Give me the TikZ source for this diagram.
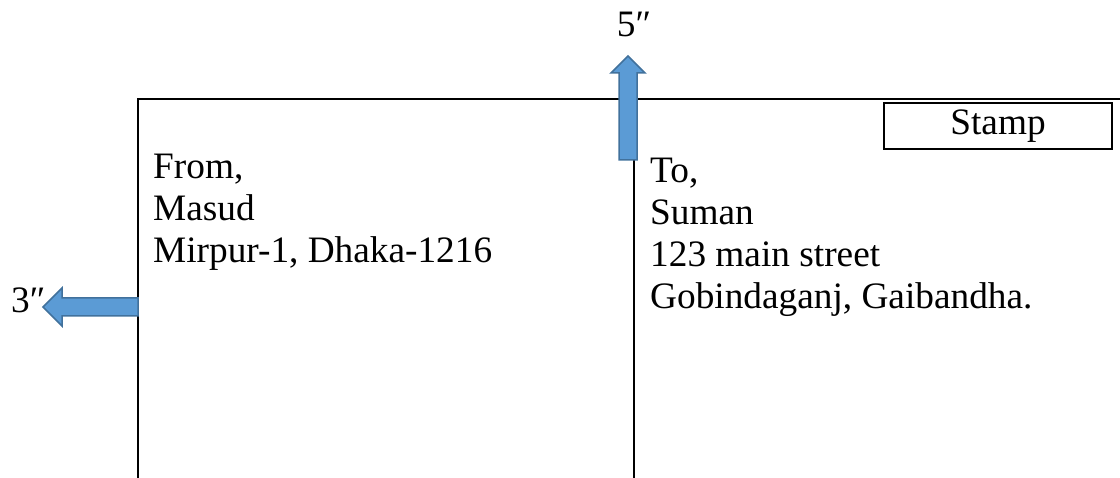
\documentclass[tikz,border=0pt]{standalone}
\usepackage{fontspec}
\setmainfont{Liberation Serif}
\definecolor{arrowfill}{HTML}{5B9BD5}
\definecolor{arrowdraw}{HTML}{41719C}
\begin{document}
\begin{tikzpicture}[x=1pt,y=-1pt,
  frame/.style={line width=2pt,black},
  blockarrow/.style={fill=arrowfill,draw=arrowdraw,line width=1.5pt,line join=miter},
  txt/.style={inner sep=0pt,anchor=base west,align=left,font=\fontsize{37.3}{42}\selectfont},
  dim/.style={inner sep=0pt,font=\fontsize{37.3}{42}\selectfont}]
\useasboundingbox (0,0) rectangle (1120,478);
% frame
\coordinate (tl) at (138,99);
\coordinate (tr) at (1120,99);
\coordinate (bl) at (138,478);
\coordinate (mt) at (634,99);
\coordinate (mb) at (634,478);
\draw[frame] (tr) -- (tl) -- (bl);
\draw[frame] (mt) -- (mb);
% stamp
\node[draw,line width=2pt,minimum width=228pt,minimum height=46pt,inner sep=0pt,anchor=north west,font=\fontsize{37.3}{42}\selectfont] (stamp) at (883,102) {Stamp};
% up arrow
\draw[blockarrow] (619,160) -- (619,73) -- (611,73) -- (628,56) -- (645,73) -- (637,73) -- (637,160) -- cycle;
\node[dim,anchor=base] (five) at (634,37) {5″};
% left arrow
\draw[blockarrow] (138,298) -- (62,298) -- (62,288) -- (43,307) -- (62,326) -- (62,316) -- (138,316) -- cycle;
\node[dim,anchor=base west] (three) at (11,313) {3″};
% text
\node[txt] (from) at (153,263) {From,\\Masud\\Mirpur-1, Dhaka-1216};
\node[txt] (to) at (650,309) {To,\\Suman\\123 main street\\Gobindaganj, Gaibandha.};
\end{tikzpicture}
\end{document}
